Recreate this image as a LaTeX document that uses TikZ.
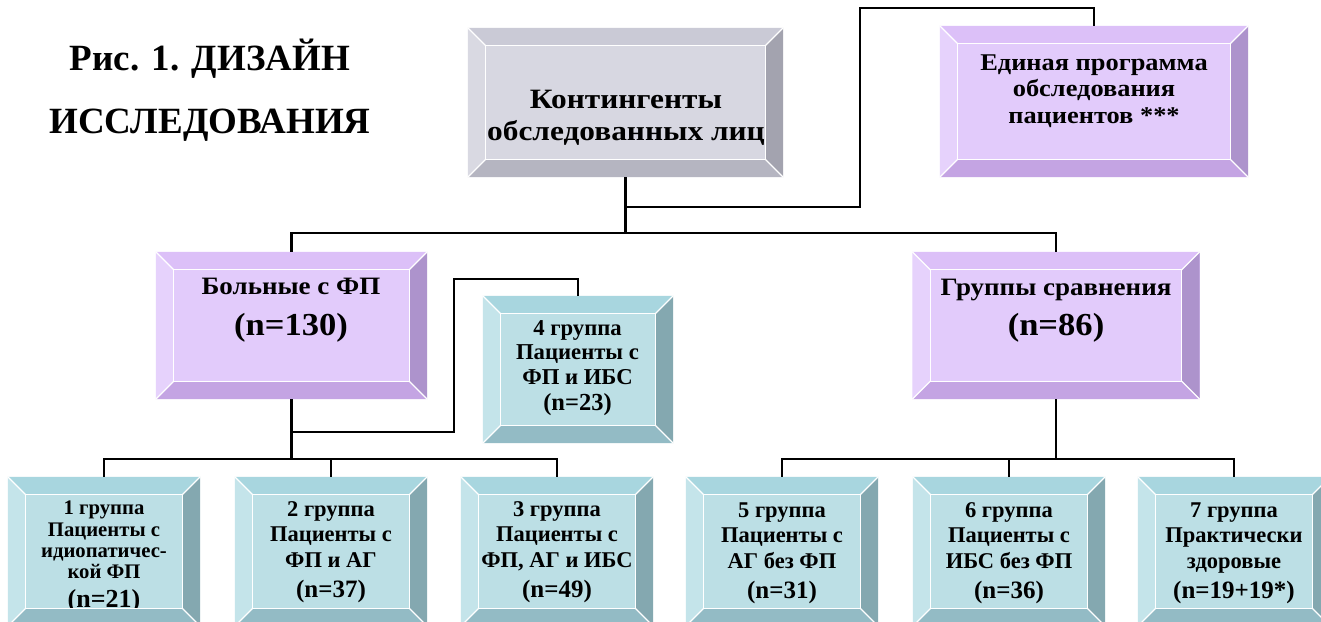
\documentclass[tikz,border=0pt]{standalone}
\usepackage{fontspec}
\setmainfont{Liberation Serif}
\newfontfamily\fkont[FakeStretch=1.12]{Liberation Serif}
\newfontfamily\fedin[FakeStretch=1.1]{Liberation Serif}
\newfontfamily\fbol[FakeStretch=1.08]{Liberation Serif}
\definecolor{pT}{HTML}{DCC0F8}
\definecolor{pL}{HTML}{E6D2FC}
\definecolor{pI}{HTML}{E2CBFB}
\definecolor{pR}{HTML}{AD93CC}
\definecolor{pB}{HTML}{C4A4E3}
\definecolor{bT}{HTML}{A8D6DF}
\definecolor{bL}{HTML}{C4E4EA}
\definecolor{bI}{HTML}{BCDFE5}
\definecolor{bR}{HTML}{84A8B0}
\definecolor{bB}{HTML}{93BBC5}
\definecolor{gT}{HTML}{CACAD6}
\definecolor{gL}{HTML}{D9D9E2}
\definecolor{gI}{HTML}{D7D7E1}
\definecolor{gR}{HTML}{A3A3AF}
\definecolor{gB}{HTML}{B5B5C1}
\def\bw{18}
\tikzset{
  boxbase/.style={inner sep=0, draw=none, minimum height=147},
  pbox/.style={boxbase, fill=pI},
  bbox/.style={boxbase, fill=bI},
  gbox/.style={boxbase, fill=gI},
  sep/.style={white, line width=1.3},
  conn/.style={black, line width=2.2},
  txt/.style={align=center, inner sep=0, anchor=base, text=black},
  lowtxt/.style={txt, font=\bfseries\fontsize{22.5}{25.5}\selectfont},
}
\newcommand\drawbevel[2]{%
\fill[#2T] (#1.north west) -- (#1.north east) -- ([shift={(-\bw,-\bw)}]#1.north east) -- ([shift={(\bw,-\bw)}]#1.north west) -- cycle;
\fill[#2L] (#1.north west) -- ([shift={(\bw,-\bw)}]#1.north west) -- ([shift={(\bw,\bw)}]#1.south west) -- (#1.south west) -- cycle;
\fill[#2R] (#1.north east) -- ([shift={(-\bw,-\bw)}]#1.north east) -- ([shift={(-\bw,\bw)}]#1.south east) -- (#1.south east) -- cycle;
\fill[#2B] (#1.south west) -- ([shift={(\bw,\bw)}]#1.south west) -- ([shift={(-\bw,\bw)}]#1.south east) -- (#1.south east) -- cycle;
\draw[sep] ([shift={(\bw,-\bw)}]#1.north west) rectangle ([shift={(-\bw,\bw)}]#1.south east);
\draw[sep] (#1.north west) -- ++(\bw,-\bw) (#1.north east) -- ++(-\bw,-\bw) (#1.south west) -- ++(\bw,\bw) (#1.south east) -- ++(-\bw,\bw);
}
\newcommand\nsz[1]{{\fontsize{25}{25}\selectfont #1}}
\begin{document}
\begin{tikzpicture}[x=1pt,y=1pt]
\useasboundingbox (0,0) rectangle (1321,-621);
\clip (0,0) rectangle (1321,-621);
\fill[white] (0,0) rectangle (1321,-621);
% boxes
\node[gbox, minimum width=315, minimum height=149] (kont) at (625.5,-102.5) {};
\node[pbox, minimum width=308, minimum height=151] (edin) at (1094,-101.5) {};
\node[pbox, minimum width=271] (bol) at (291.5,-325.5) {};
\node[pbox, minimum width=287] (grp) at (1056,-325.5) {};
\node[bbox, minimum width=190] (g4) at (578,-369.5) {};
\node[bbox, minimum width=192, minimum height=149] (g1) at (104,-551.5) {};
\node[bbox, minimum width=192, minimum height=149] (g2) at (331,-551.5) {};
\node[bbox, minimum width=192, minimum height=149] (g3) at (557,-551.5) {};
\node[bbox, minimum width=192, minimum height=149] (g5) at (782,-551.5) {};
\node[bbox, minimum width=192, minimum height=149] (g6) at (1009,-551.5) {};
\node[bbox, minimum width=192, minimum height=149] (g7) at (1234,-551.5) {};
% texts (anchor = baseline of the last line)
\node[txt, font=\bfseries\fontsize{37}{63}\selectfont] (title) at (210,-133) {Рис. 1. ДИЗАЙН\\ИССЛЕДОВАНИЯ};
\node[txt, font=\fkont\bfseries\fontsize{28}{32}\selectfont] (tk) at (626,-140) {Контингенты\\обследованных лиц};
\node[txt, font=\fedin\bfseries\fontsize{24}{26.5}\selectfont] (te) at (1094,-123) {Единая программа\\обследования\\пациентов ***};
\node[txt, font=\fbol\bfseries\fontsize{25}{41}\selectfont] (tb) at (291,-335) {Больные с ФП\\{\fontsize{32}{32}\selectfont (n=130)}};
\node[txt, font=\fbol\bfseries\fontsize{25}{40}\selectfont] (tg) at (1056,-335) {Группы сравнения\\{\fontsize{32}{32}\selectfont (n=86)}};
\node[txt, font=\bfseries\fontsize{22.7}{24.5}\selectfont] (t4) at (577.5,-410) {4 группа\\Пациенты с\\ФП и ИБС\\[1.5pt]{\fontsize{24.5}{24.5}\selectfont (n=23)}};
\node[txt, font=\bfseries\fontsize{20.7}{21.3}\selectfont] (t1) at (104,-607) {1 группа\\Пациенты с\\идиопатичес-\\кой ФП\\[7pt]{\fontsize{26}{26}\selectfont (n=21)}};
\node[lowtxt] (t2) at (331,-597) {2 группа\\Пациенты с\\ФП и АГ\\[4.5pt]\nsz{(n=37)}};
\node[lowtxt] (t3) at (557,-597) {3 группа\\Пациенты с\\ФП, АГ и ИБС\\[4.5pt]\nsz{(n=49)}};
\node[lowtxt] (t5) at (782,-598) {5 группа\\Пациенты с\\АГ без ФП\\[4.5pt]\nsz{(n=31)}};
\node[lowtxt] (t6) at (1009,-598) {6 группа\\Пациенты с\\ИБС без ФП\\[4.5pt]\nsz{(n=36)}};
\node[lowtxt] (t7) at (1234,-598) {7 группа\\Практически\\здоровые\\[4.5pt]\nsz{(n=19+19*)}};
% bevels
\drawbevel{kont}{g}
\drawbevel{edin}{p}
\drawbevel{bol}{p}
\drawbevel{grp}{p}
\drawbevel{g4}{b}
\drawbevel{g1}{b}
\drawbevel{g2}{b}
\drawbevel{g3}{b}
\drawbevel{g5}{b}
\drawbevel{g6}{b}
\drawbevel{g7}{b}
% connectors
\coordinate (j1) at (625.5,-233);
\coordinate (j2) at (625.5,-207);
\coordinate (c1) at (860,-8);
\coordinate (j3) at (291.5,-432);
\coordinate (c2) at (454,-279);
\coordinate (j4) at (291.5,-459);
\coordinate (j5) at (1056,-459);
\draw[conn] (kont.south) -- (j1);
\draw[conn] (bol.north) |- (j1) -| (grp.north);
\draw[conn] (j2) -| (c1) -| (edin.north);
\draw[conn] (bol.south) -- (j4);
\draw[conn] (j3) -| (c2) -| (g4.north);
\draw[conn] (g1.north) |- (j4) -| (g3.north);
\draw[conn] (g2.north) -- (g2.north |- j4);
\draw[conn] (grp.south) -- (j5);
\draw[conn] (g5.north) |- (j5) -| (g7.north);
\draw[conn] (g6.north) -- (g6.north |- j5);
\end{tikzpicture}
\end{document}
